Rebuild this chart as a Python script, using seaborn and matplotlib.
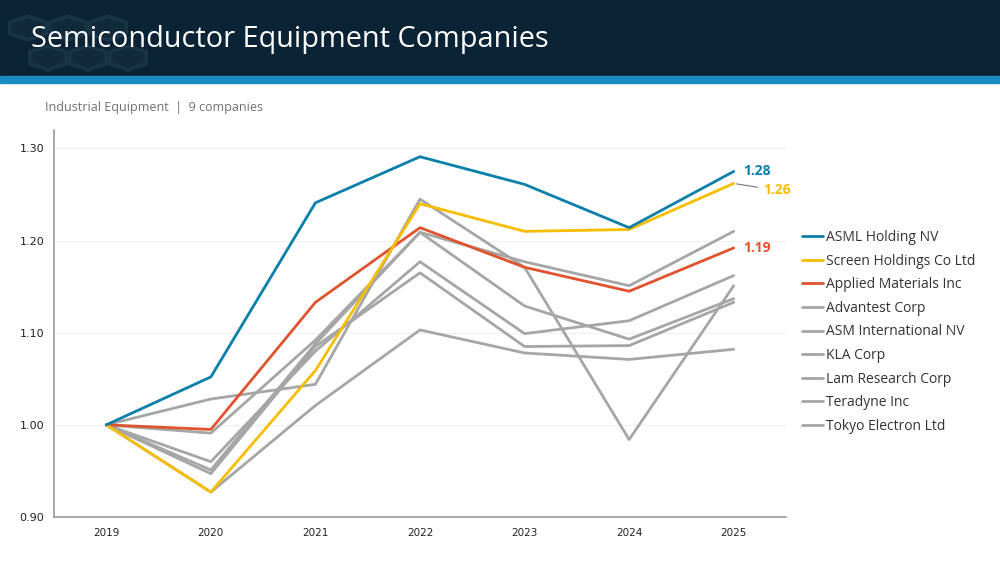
import numpy as np
import pandas as pd
import matplotlib
matplotlib.use("Agg")
import matplotlib.pyplot as plt
from matplotlib.patches import Rectangle, RegularPolygon
from matplotlib.lines import Line2D
import seaborn as sns

years = ["2019", "2020", "2021", "2022", "2023", "2024", "2025"]
companies = ["ASML Holding NV", "Screen Holdings Co Ltd", "Applied Materials Inc",
             "Advantest Corp", "ASM International NV", "KLA Corp",
             "Lam Research Corp", "Teradyne Inc", "Tokyo Electron Ltd"]
asml = [1.00, 1.052, 1.241, 1.291, 1.261, 1.214, 1.275]
screen = [1.00, 0.927, 1.059, 1.240, 1.210, 1.212, 1.262]
applied = [1.00, 0.995, 1.133, 1.214, 1.171, 1.145, 1.192]
advantest = [1.00, 1.028, 1.044, 1.245, 1.171, 0.984, 1.151]
asm_intl = [1.00, 0.991, 1.092, 1.209, 1.177, 1.151, 1.210]
kla = [1.00, 0.951, 1.088, 1.209, 1.129, 1.093, 1.137]
lam = [1.00, 0.960, 1.080, 1.177, 1.099, 1.113, 1.162]
teradyne = [1.00, 0.947, 1.085, 1.165, 1.085, 1.086, 1.133]
tokyo = [1.00, 0.927, 1.021, 1.103, 1.078, 1.071, 1.082]
series = [asml, screen, applied, advantest, asm_intl, kla, lam, teradyne, tokyo]
end_labels = {"ASML Holding NV": "1.28", "Screen Holdings Co Ltd": "1.26",
              "Applied Materials Inc": "1.19"}

BLUE = "#0b7fab"
YELLOW = "#f7bd00"
RED = "#e0532f"
GREY = "#a6a6a6"
palette = {c: GREY for c in companies}
palette.update({companies[0]: BLUE, companies[1]: YELLOW, companies[2]: RED})

rows = []
for name, vals in zip(companies, series):
    for i, (y, v) in enumerate(zip(years, vals)):
        rows.append({"company": name, "idx": i, "year": y, "value": v})
df = pd.DataFrame(rows)

sns.set_style("white")
plt.rcParams["font.family"] = ["DejaVu Sans"]

fig = plt.figure(figsize=(10, 5.62), dpi=100)

# header band
fig.patches.append(Rectangle((0, 1 - 76 / 562), 1, 76 / 562, transform=fig.transFigure,
                             color="#0b2435", zorder=0))
fig.patches.append(Rectangle((0, 1 - 83 / 562), 1, 7 / 562, transform=fig.transFigure,
                             color="#1a8cc2", zorder=0))
# faint hexagon watermark
for (hx, hy) in [(28, 28), (68, 28), (108, 28), (48, 58), (88, 58), (128, 58)]:
    fig.patches.append(RegularPolygon((hx / 1000, 1 - hy / 562), numVertices=6,
                                      radius=0.021, orientation=0,
                                      transform=fig.transFigure, facecolor="#102a3b",
                                      edgecolor="#183446", lw=2.5, zorder=1))
fig.text(0.031, 1 - 40 / 562, "Semiconductor Equipment Companies", color="white",
         fontsize=20.8, family="Open Sans", va="center", ha="left")
fig.text(0.045, 1 - 107 / 562, "Industrial Equipment  |  9 companies", color="#707070",
         fontsize=9, family="Open Sans", va="center", ha="left")

ax = fig.add_axes([0.054, 0.0801, 0.732, 1 - 0.0801 - 130 / 562])

grey_names = companies[3:]
col_names = companies[:3]
sns.lineplot(data=df[df.company.isin(grey_names)], x="idx", y="value", hue="company",
             hue_order=grey_names, palette=palette, linewidth=2.0, ax=ax, legend=False,
             sort=False)
sns.lineplot(data=df[df.company.isin(col_names)], x="idx", y="value", hue="company",
             hue_order=col_names[::-1], palette=palette, linewidth=2.0, ax=ax, legend=False,
             sort=False)

ax.set_xlim(-0.5, 6.5)
ax.set_ylim(0.90, 1.32)
ax.set_yticks([0.90, 1.00, 1.10, 1.20, 1.30])
ax.set_yticklabels(["0.90", "1.00", "1.10", "1.20", "1.30"], fontsize=8, color="#222222")
ax.set_xticks(range(len(years)))
ax.set_xticklabels(years, fontsize=7.5, color="#222222")
ax.set_xticks(np.arange(0.5, 7, 1), minor=True)
ax.tick_params(axis="x", which="major", length=0, pad=8)
ax.tick_params(axis="x", which="minor", length=4, color="#888888", direction="out")
ax.tick_params(axis="y", length=4, color="#888888", direction="out", pad=3)
ax.set_xlabel("")
ax.set_ylabel("")
ax.grid(axis="y", color="#f0f0f0", lw=0.8)
ax.set_axisbelow(True)
for s in ["top", "right"]:
    ax.spines[s].set_visible(False)
for s in ["left", "bottom"]:
    ax.spines[s].set_color("#9a9a9a")
    ax.spines[s].set_linewidth(1.2)

# end labels
last = len(years) - 1
ax.annotate(end_labels[companies[0]], xy=(last, asml[-1]), xytext=(10, 0),
            textcoords="offset pixels", color=BLUE, fontsize=10, fontweight="bold",
            family="Open Sans", va="center", ha="left")
ax.annotate(end_labels[companies[1]], xy=(last, screen[-1]), xytext=(30, -7),
            textcoords="offset pixels", color=YELLOW, fontsize=10, fontweight="bold",
            family="Open Sans", va="center", ha="left",
            arrowprops=dict(arrowstyle="-", color="#777777", lw=0.8,
                            shrinkA=2, shrinkB=2))
ax.annotate(end_labels[companies[2]], xy=(last, applied[-1]), xytext=(10, 0),
            textcoords="offset pixels", color=RED, fontsize=10, fontweight="bold",
            family="Open Sans", va="center", ha="left")

handles = [Line2D([0], [0], color=palette[c], lw=2.0) for c in companies]
fig.legend(handles, companies, loc="upper left", bbox_to_anchor=(0.802, 1 - 230 / 562),
           frameon=False, prop={"family": "Open Sans", "size": 10},
           handlelength=1.5, handletextpad=0.25, labelspacing=0.62, borderaxespad=0,
           borderpad=0, labelcolor="#333333")

fig.savefig("out.png", dpi=100)
